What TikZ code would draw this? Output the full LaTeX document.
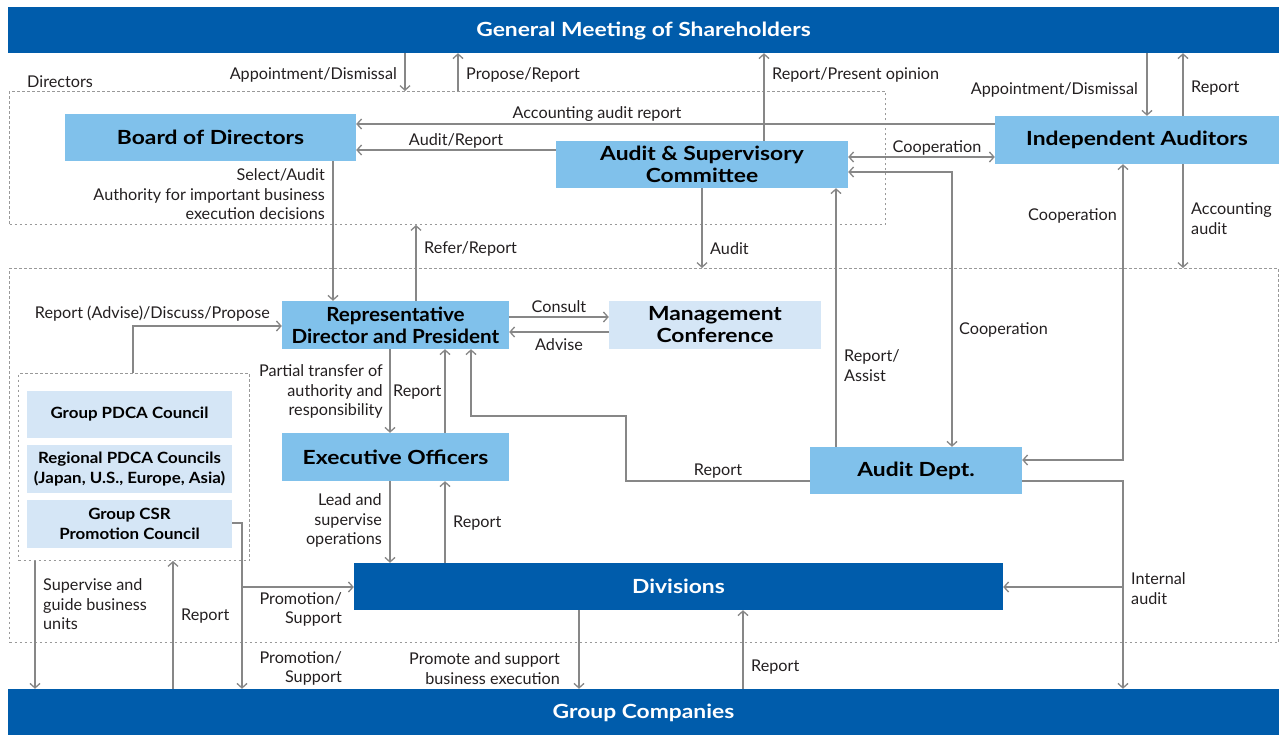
\documentclass[tikz,border=0pt]{standalone}
\usepackage{fontspec}
\setmainfont{Lato}
\newfontfamily\widefont[FakeStretch=1.17]{Lato}
\newfontfamily\midfont[FakeStretch=1.09]{Lato}
\newfontfamily\narrowfont[FakeStretch=1.06]{Lato}
\usetikzlibrary{arrows.meta}
\definecolor{darkblue}{RGB}{0,92,171}
\definecolor{midblue}{RGB}{128,193,235}
\definecolor{paleblue}{RGB}{213,230,246}
\definecolor{linegray}{RGB}{135,135,135}
\definecolor{txtgray}{RGB}{35,31,32}
\tikzset{
  banner/.style={fill=darkblue, text=white, inner sep=0pt, text height=17pt, text depth=4pt, font=\widefont\fontsize{19.5}{22}\selectfont\bfseries},
  mbox/.style={fill=midblue, text=black, inner sep=0pt, align=center, font=\widefont\fontsize{19.5}{22}\selectfont\bfseries},
  pbox/.style={fill=paleblue, text=black, inner sep=0pt, align=center},
  pfont/.style={font=\midfont\fontsize{15.5}{19.5}\selectfont\bfseries},
  dashbox/.style={draw=linegray!85, line width=1pt, dash pattern=on 2.5pt off 2.5pt, inner sep=0pt},
  lbl/.style={text=txtgray, inner sep=0pt, yshift=-1.5pt, font=\fontsize{16.2}{19.5}\selectfont},
  arr/.style={draw=linegray, line width=1.3pt, -{Straight Barb[length=4.5pt,width=10pt]}},
  arrb/.style={draw=linegray, line width=1.3pt, {Straight Barb[length=4.5pt,width=10pt]}-{Straight Barb[length=4.5pt,width=10pt]}},
  ln/.style={draw=linegray, line width=1.3pt}
}
\begin{document}
\begin{tikzpicture}[x=1pt,y=-1pt]
\useasboundingbox (0,0) rectangle (1279,735);
% dashed groups
\node[dashbox, minimum width=876, minimum height=133, anchor=north west] (dirbox) at (9,91) {};
\node[dashbox, minimum width=1269, minimum height=374, anchor=north west] (exbox) at (9,268) {};
\node[dashbox, minimum width=231, minimum height=187, anchor=north west] (leftbox) at (18,373) {};
% banners
\node[banner, minimum width=1271, minimum height=46] (gms) at (643.5,30) {General Meeting of Shareholders};
\node[banner, minimum width=1271, minimum height=46] (gc) at (643.5,712) {Group Companies};
\node[banner, minimum width=649, minimum height=47] (div) at (678.5,586.5) {Divisions};
% main boxes
\node[mbox, minimum width=291, minimum height=47] (bod) at (210.5,137.5) {Board of Directors};
\node[mbox, minimum width=292, minimum height=47] (asc) at (702,164.5) {Audit \& Supervisory\\Committee};
\node[mbox, minimum width=284, minimum height=48] (ia) at (1137,140) {Independent Auditors};
\node[mbox, font=\narrowfont\fontsize{19.5}{22}\selectfont\bfseries, minimum width=227, minimum height=48] (rdp) at (395.5,325) {Representative\\Director and President};
\node[pbox, font=\widefont\fontsize{19.5}{22}\selectfont\bfseries, minimum width=212, minimum height=48] (mc) at (715,325) {Management\\Conference};
\node[mbox, minimum width=227, minimum height=48] (eo) at (395.5,457) {Executive Officers};
\node[mbox, minimum width=212, minimum height=47] (ad) at (916,470.5) {Audit Dept.};
% councils
\node[pbox, pfont, minimum width=205, minimum height=47] (gpc) at (129.5,414.5) {Group PDCA Council};
\node[pbox, pfont, minimum width=205, minimum height=48] (rpc) at (129.5,469) {Regional PDCA Councils\\(Japan, U.S., Europe, Asia)};
\node[pbox, pfont, minimum width=205, minimum height=48] (csr) at (129.5,524) {Group CSR\\Promotion Council};
% connectors
\draw[arr] (405,0 |- gms.south) -- (405,0 |- dirbox.north);
\draw[arr] (458,0 |- dirbox.north) -- (458,0 |- gms.south);
\draw[arr] (764,0 |- asc.north) -- (764,0 |- gms.south);
\draw[arr] (1147,0 |- gms.south) -- (1147,0 |- ia.north);
\draw[arr] (1183,0 |- ia.north) -- (1183,0 |- gms.south);
\draw[arr] (ia.west |- 0,124) -- (bod.east |- 0,124);
\draw[arr] (asc.west |- 0,150) -- (bod.east |- 0,150);
\draw[arrb] (asc.east |- 0,157) -- (ia.west |- 0,157);
\draw[arrb] (asc.east |- 0,172) -- (952,172) -- (952,0 |- ad.north);
\draw[arrb] (1123,0 |- ia.south) -- (1123,460) -- (ad.east |- 0,460);
\draw[arr] (1183,0 |- ia.south) -- (1183,0 |- exbox.north);
\draw[arr] (702,0 |- asc.south) -- (702,0 |- exbox.north);
\draw[arr] (836,0 |- ad.north) -- (836,0 |- asc.south);
\draw[arr] (416,0 |- rdp.north) -- (416,0 |- dirbox.south);
\draw[arr] (333,0 |- bod.south) -- (333,0 |- rdp.north);
\draw[arr] (rdp.east |- 0,317) -- (mc.west |- 0,317);
\draw[arr] (mc.west |- 0,332) -- (rdp.east |- 0,332);
\draw[arr] (133,0 |- leftbox.north) -- (133,326) -- (rdp.west |- 0,326);
\draw[arr] (390,0 |- rdp.south) -- (390,0 |- eo.north);
\draw[arr] (445,0 |- eo.north) -- (445,0 |- rdp.south);
\draw[arr] (ad.west |- 0,481) -- (626,481) -- (626,416) -- (471,416) -- (471,0 |- rdp.south);
\draw[arr] (390,0 |- eo.south) -- (390,0 |- div.north);
\draw[arr] (445,0 |- div.north) -- (445,0 |- eo.south);
\draw[arr] (ad.east |- 0,481) -- (1123,481) -- (1123,0 |- gc.north);
\coordinate (iabr) at (1123,587);
\draw[arr] (iabr) -- (div.east |- iabr);
\draw[arr] (35,0 |- leftbox.south) -- (35,0 |- gc.north);
\draw[arr] (173,0 |- gc.north) -- (173,0 |- leftbox.south);
\draw[arr] (csr.east |- 0,523) -- (242,523) -- (242,0 |- gc.north);
\coordinate (csrbr) at (242,587);
\draw[arr] (csrbr) -- (div.west |- csrbr);
\draw[arr] (579,0 |- div.south) -- (579,0 |- gc.north);
\draw[arr] (743,0 |- gc.north) -- (743,0 |- div.south);
% labels
\node[lbl, anchor=west] (l1) at (27,80) {Directors};
\node[lbl, anchor=east] (l2) at (397,73) {Appointment/Dismissal};
\node[lbl, anchor=west] (l3) at (466,73) {Propose/Report};
\node[lbl, anchor=west] (l4) at (772,73) {Report/Present opinion};
\node[lbl, anchor=east] (l5) at (1138,88) {Appointment/Dismissal};
\node[lbl, anchor=west] (l6) at (1191,87) {Report};
\node[lbl] (l7) at (597,113) {Accounting audit report};
\node[lbl] (l8) at (456,139) {Audit/Report};
\node[lbl] (l9) at (937,146) {Cooperation};
\node[lbl, anchor=east, align=right] (l10) at (325,193) {Select/Audit\\Authority for important business\\execution decisions};
\node[lbl, anchor=west] (l11) at (424,247) {Refer/Report};
\node[lbl, anchor=west] (l12) at (710,247) {Audit};
\node[lbl, anchor=east] (l13) at (1117,214) {Cooperation};
\node[lbl, anchor=west, align=left] (l14) at (1191,217) {Accounting\\audit};
\node[lbl, anchor=east] (l15) at (270,312) {Report (Advise)/Discuss/Propose};
\node[lbl] (l16) at (559,305) {Consult};
\node[lbl] (l17) at (559,343) {Advise};
\node[lbl, anchor=east, align=right] (l18) at (383,390) {Partial transfer of\\authority and\\responsibility};
\node[lbl, anchor=west] (l19) at (393,391) {Report};
\node[lbl, anchor=west, align=left] (l20) at (844,364) {Report/\\Assist};
\node[lbl, anchor=west] (l21) at (959,328) {Cooperation};
\node[lbl] (l22) at (718,470) {Report};
\node[lbl, anchor=east, align=right] (l23) at (382,519) {Lead and\\supervise\\operations};
\node[lbl, anchor=west] (l24) at (453,522) {Report};
\node[lbl, anchor=west, align=left] (l25) at (1131,587) {Internal\\audit};
\node[lbl, anchor=west, align=left] (l26) at (43,603) {Supervise and\\guide business\\units};
\node[lbl, anchor=west] (l27) at (181,615) {Report};
\node[lbl, anchor=east, align=right] (l28) at (342,608) {Promotion/\\Support};
\node[lbl, anchor=east, align=right] (l29) at (342,667) {Promotion/\\Support};
\node[lbl, anchor=east, align=right] (l30) at (560,667) {Promote and support\\business execution};
\node[lbl, anchor=west] (l31) at (751,666) {Report};
\end{tikzpicture}
\end{document}
